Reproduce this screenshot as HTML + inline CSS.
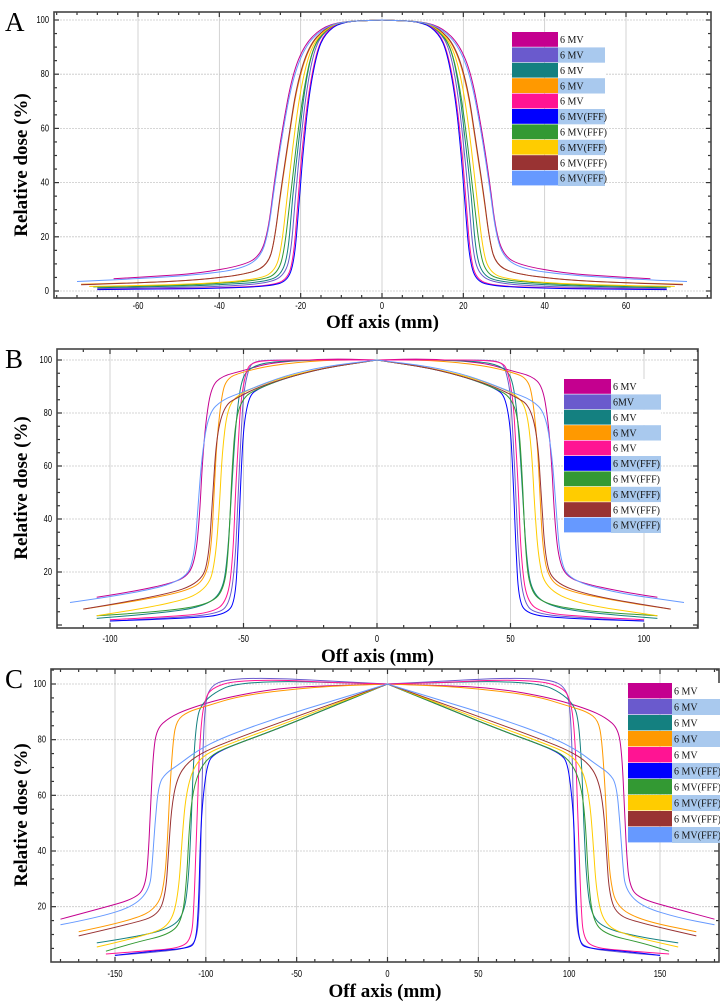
<!DOCTYPE html>
<html><head><meta charset="utf-8"><style>
html,body{margin:0;padding:0;background:#fff;}
svg{display:block;font-family:"Liberation Serif",serif;}
</style></head><body>
<svg id="fig" width="720" height="1002" viewBox="0 0 720 1002" xmlns="http://www.w3.org/2000/svg"></svg>
<script>
// ===== DATA =====
const seriesLabelsA = ["6 MV","6 MV","6 MV","6 MV","6 MV","6 MV(FFF)","6 MV(FFF)","6 MV(FFF)","6 MV(FFF)","6 MV(FFF)"];
const seriesLabelsB = ["6 MV","6MV","6 MV","6 MV","6 MV","6 MV(FFF)","6 MV(FFF)","6 MV(FFF)","6 MV(FFF)","6 MV(FFF)"];
const seriesLabelsC = ["6 MV","6 MV","6 MV","6 MV","6 MV","6 MV(FFF)","6 MV(FFF)","6 MV(FFF)","6 MV(FFF)","6 MV(FFF)"];
const seriesColors = ["#c4008f","#6a5acd","#148080","#ff9900","#ff1493","#0000ff","#339933","#ffcc00","#993333","#6699ff"];

const xTicksA = [-60,-40,-20,0,20,40,60];
const yTicksA = [0,20,40,60,80,100];
const xTicksB = [-100,-50,0,50,100];
const yTicksB = [20,40,60,80,100];
const xTicksC = [-150,-100,-50,0,50,100,150];
const yTicksC = [20,40,60,80,100];

// right-half profiles [offAxis mm, dose %], mirrored for left half
const profilesA = [
 [[0,100],[10,99.5],[15,97],[19,91],[22,80],[24.5,60],[26.5,40],[28,22],[30,13],[34,9.5],[45,6.5],[55,5.5],[66,4.5]],
 [[0,100],[10,99.5],[14,96],[16.5,90],[18.5,75],[20,55],[21.3,35],[22.3,15],[23.8,6],[28,2.8],[40,1.6],[55,1.2],[70,0.9]],
 [[0,100],[10,99.5],[14,96],[17,90],[19,75],[20.5,55],[22,35],[23,15],[24.5,6.5],[28,3.5],[40,2.2],[55,1.6],[70,1.2]],
 [[0,100],[10,99.5],[14,97],[18,90],[21,75],[23,55],[25,35],[26.5,18],[28,10],[32,6.5],[45,4],[60,3],[74,2.5]],
 [[0,100],[10,99.5],[14,95.5],[16.2,88],[18.2,72],[19.8,50],[20.8,30],[21.8,12],[23.2,4.5],[27,2],[40,1.1],[55,0.8],[70,0.6]],
 [[0,100],[10,99.5],[14,95],[16,88],[18,72],[19.5,50],[20.5,30],[21.5,12],[23,4],[27,1.8],[40,1],[55,0.7],[70,0.5]],
 [[0,100],[10,99.5],[14,96.5],[17,90],[19.2,75],[21,55],[22.5,35],[24,15],[25.5,7],[29,4],[45,2.3],[60,1.8],[71,1.5]],
 [[0,100],[10,99.5],[14,96.5],[17.5,90],[20,75],[21.8,55],[23.3,35],[24.8,15],[26.3,7.5],[30,4.3],[45,2.6],[60,2],[72,1.7]],
 [[0,100],[10,99.5],[14,97],[18,90.5],[21,76],[23,56],[25,36],[26.5,18],[28,10],[32,6.5],[45,4],[60,3],[74,2.3]],
 [[0,100],[10,99.5],[15,96.5],[19,90],[22,78],[24.5,58],[26.5,38],[28,21],[30,12],[35,8],[45,6],[60,4.5],[75,3.5]]
];
const profilesB = [
 [[0,100],[20,100.5],[40,99],[50,96],[58,94],[62,90],[64,78],[65.5,60],[66.5,40],[68,25],[71,18],[80,15],[95,12],[105,10.5]],
 [[0,100],[20,100],[40,100],[46,99.5],[48,97],[50,88],[51,70],[52,50],[53,25],[55,8],[60,4],[80,2.5],[100,1.5]],
 [[0,100],[20,100],[40,99.5],[48,97],[51,92],[53,75],[54.5,50],[56,25],[58,12],[65,7],[80,4.5],[105,2.5]],
 [[0,100],[20,100],[40,98],[52,95],[56,93],[58,88],[60,70],[61,50],[62,30],[64,18],[70,13],[90,9],[110,6]],
 [[0,100],[20,100],[40,100],[47,99],[49,96],[51,85],[52,68],[53,50],[54,25],[56,9],[62,4.5],[80,3],[100,2]],
 [[0,100],[20,97],[35,93],[45,89],[48,86],[50,75],[51,55],[52,30],[53,10],[56,4],[70,2.5],[100,1.5]],
 [[0,100],[20,97],[35,93],[45,89],[50,86],[53,78],[54.5,55],[55.5,30],[57,14],[62,8],[80,5],[105,3.5]],
 [[0,100],[20,97],[35,93.5],[45,90],[52,87],[56,82],[58,65],[59,45],[60.5,25],[63,14],[75,8],[105,3.5]],
 [[0,100],[20,97],[35,93],[45,89.5],[52,86],[57,83],[60,72],[61.5,50],[63,25],[66,16],[80,11],[110,6]],
 [[0,100],[20,97.5],[35,94],[50,88],[58,85],[63,80],[65.5,65],[67,45],[68.5,25],[72,17],[90,12],[115,8.5]]
];
const profilesC = [
 [[0,100],[30,99.5],[60,98.5],[90,95],[110,91],[120,88],[127,84],[129,75],[130.5,55],[131.5,40],[133,28],[138,23],[160,19],[180,15.5]],
 [[0,100],[30,101],[60,102],[80,102],[92,101],[97,99],[100,95],[101.5,80],[102.5,50],[103.5,20],[105,8],[110,5],[130,3.5],[150,2.5]],
 [[0,100],[30,100.5],[60,101],[85,100],[95,97],[102,93],[105,88],[107,70],[108,50],[109.5,30],[112,17],[120,12],[140,9],[160,7]],
 [[0,100],[40,99],[80,96],[100,92],[110,90],[116,87],[118,80],[120,60],[121,45],[122.5,30],[126,20],[140,15],[170,11]],
 [[0,100],[30,100.5],[60,101.5],[85,101],[95,99],[100,96],[103,85],[105,50],[106.5,20],[108,8],[115,5],[135,4],[155,3]],
 [[0,100],[30,92],[60,84],[85,78],[95,75],[99,72],[101.5,60],[103,45],[104,20],[105.5,7],[110,5],[130,4],[150,2.5]],
 [[0,100],[30,92],[60,84],[85,78],[96,75],[103,70],[107,62],[109,50],[110.5,30],[113,15],[120,10],[140,7],[155,4]],
 [[0,100],[30,92.5],[60,85],[85,79],[100,75],[107,70],[111,60],[113,45],[115,25],[119,14],[130,10],[160,5.5]],
 [[0,100],[30,93],[60,86],[85,80],[100,76],[110,72],[116,66],[119,55],[120.5,40],[122,25],[126,17],[140,14],[170,9.5]],
 [[0,100],[30,94],[60,88],[90,81],[105,76],[115,71],[122,68],[126,64],[128,50],[129.5,35],[131,26],[140,20],[160,16],[180,13.5]]
];

// ===== LAYOUT =====
const NS = "http://www.w3.org/2000/svg";
const svg = document.getElementById('fig');
function mk(tag, attrs, parent){ const e=document.createElementNS(NS,tag); for(const k in attrs) e.setAttribute(k,attrs[k]); (parent||svg).appendChild(e); return e; }

const panels = [
 {id:'a', letter:'A', profiles:profilesA, labels:seriesLabelsA, xt:xTicksA, yt:yTicksA, minorX:5, minorY:5,
  fx0:54, fx1:711, fy0:12, fy1:298, xmin:-60, xmax:60, px0:138, px1:626, ymin:0, ymax:100, py0:291, py1:20,
  xlabY:306, titleY:328, ytitleY:165, letterY:31,
  lg:{x:512, w1:46, w2:47, y:32, h:15.4}},
 {id:'b', letter:'B', profiles:profilesB, labels:seriesLabelsB, xt:xTicksB, yt:yTicksB, minorX:10, minorY:5,
  fx0:57, fx1:698, fy0:349, fy1:628, xmin:-100, xmax:100, px0:110, px1:644, ymin:20, ymax:100, py0:572, py1:360,
  xlabY:639, titleY:662, ytitleY:488, letterY:368,
  lg:{x:564, w1:47, w2:50, y:379, h:15.4}},
 {id:'c', letter:'C', profiles:profilesC, labels:seriesLabelsC, xt:xTicksC, yt:yTicksC, minorX:10, minorY:5,
  fx0:51, fx1:719, fy0:669, fy1:962, xmin:-150, xmax:150, px0:115, px1:660, ymin:40, ymax:100, py0:851, py1:684,
  xlabY:974, titleY:997, ytitleY:815, letterY:688,
  lg:{x:628, w1:44, w2:49, y:683, h:16}}
];

function smoothPath(P){
  let d='M'+P[0][0].toFixed(1)+','+P[0][1].toFixed(1);
  for(let k=1;k<P.length-1;k++){
    const mx=(P[k][0]+P[k+1][0])/2, my=(P[k][1]+P[k+1][1])/2;
    d+='Q'+P[k][0].toFixed(1)+','+P[k][1].toFixed(1)+' '+mx.toFixed(1)+','+my.toFixed(1);
  }
  const L=P[P.length-1]; d+='L'+L[0].toFixed(1)+','+L[1].toFixed(1);
  return d;
}

panels.forEach(p=>{
 const g = mk('g',{});
 
 
 const sx = v => p.px0 + (v-p.xmin)*(p.px1-p.px0)/(p.xmax-p.xmin);
 const sy = v => p.py0 + (v-p.ymin)*(p.py1-p.py0)/(p.ymax-p.ymin);
 function sxInv(px){return p.xmin + (px-p.px0)*(p.xmax-p.xmin)/(p.px1-p.px0);}
 function syInv(py){return p.ymin + (py-p.py0)*(p.ymax-p.ymin)/(p.py1-p.py0);}
 // grid
 const grid = mk('g',{stroke:'#c8c8c8','stroke-width':'0.8'},g);
 
 
 p.xt.forEach(v=>mk('line',{x1:sx(v),x2:sx(v),y1:p.fy0,y2:p.fy1},grid));
 p.yt.forEach(v=>mk('line',{x1:p.fx0,x2:p.fx1,y1:sy(v),y2:sy(v),'stroke-dasharray':'2,1'},grid));
 // ticks
 const tk = mk('g',{stroke:'#333','stroke-width':'1.2'},g);
 
 
 const xs0 = Math.ceil(sxInv(p.fx0)/p.minorX)*p.minorX;
 for(let v=xs0; sx(v)<=p.fx1; v+=p.minorX){ const major=p.xt.includes(v); const L=major?5:3;
   mk('line',{x1:sx(v),x2:sx(v),y1:p.fy1,y2:p.fy1-L},tk); mk('line',{x1:sx(v),x2:sx(v),y1:p.fy0,y2:p.fy0+L},tk); }
 const ys0 = Math.ceil(syInv(p.fy1)/p.minorY)*p.minorY;
 for(let v=ys0; sy(v)>=p.fy0; v+=p.minorY){ const major=v%20===0; const L=major?5:3;
   mk('line',{x1:p.fx0,x2:p.fx0+L,y1:sy(v),y2:sy(v)},tk); mk('line',{x1:p.fx1,x2:p.fx1-L,y1:sy(v),y2:sy(v)},tk); }
 // series
 p.profiles.forEach((prof,i)=>{
   const pts=[];
   for(let k=prof.length-1;k>=0;k--) pts.push([sx(-prof[k][0]),sy(prof[k][1])]);
   for(let k=0;k<prof.length;k++) pts.push([sx(prof[k][0]),sy(prof[k][1])]);
   const path = mk('path',{d:smoothPath(pts),fill:'none',stroke:seriesColors[i],'stroke-width':'1','stroke-linejoin':'round'},g);
   
   
 });
 // frame
 const fr = mk('rect',{x:p.fx0,y:p.fy0,width:p.fx1-p.fx0,height:p.fy1-p.fy0,fill:'none',stroke:'#444','stroke-width':'1.6'},g);
 
 
 // tick labels
 p.xt.forEach(v=>{ const t=mk('text',{x:sx(v),y:p.xlabY+3,'font-size':'10','text-anchor':'middle','font-family':'Liberation Sans, sans-serif',transform:'translate('+sx(v)+',0) scale(0.75,1) translate('+(-sx(v))+',0)'},g); t.textContent=v;
     });
 p.yt.forEach(v=>{ const x=p.fx0-5; const t=mk('text',{x:x,y:sy(v)+3,'font-size':'10','text-anchor':'end','font-family':'Liberation Sans, sans-serif',transform:'translate('+x+',0) scale(0.75,1) translate('+(-x)+',0)'},g); t.textContent=v;
     });
 // titles
 const xt = mk('text',{x:(p.fx0+p.fx1)/2,y:p.titleY,'font-size':'19','font-weight':'bold','text-anchor':'middle'},g); xt.textContent='Off axis (mm)';
  
 const yt = mk('text',{x:0,y:0,'font-size':'19','font-weight':'bold','text-anchor':'middle',transform:'translate(27,'+p.ytitleY+') rotate(-90)'},g); yt.textContent='Relative dose (%)';
  
 const lt = mk('text',{x:5,y:p.letterY,'font-size':'27'},g); lt.textContent=p.letter;
  
 // legend
 const lg = mk('g',{},g);
  
 p.labels.forEach((lab,i)=>{
   const y = p.lg.y + i*p.lg.h;
   const e = mk('g',{},lg);
    
   mk('rect',{x:p.lg.x+p.lg.w1,y:y,width:p.lg.w2,height:p.lg.h,fill:(i%2===1)?'#a9c9ee':'#fff'},e);
   mk('rect',{x:p.lg.x,y:y,width:p.lg.w1,height:p.lg.h-0.6,fill:seriesColors[i]},e);
   const t = mk('text',{x:p.lg.x+p.lg.w1+2,y:y+p.lg.h*0.72,'font-size':'10',fill:'#111'},e); t.textContent=lab;
 });
});
</script>
</body></html>
